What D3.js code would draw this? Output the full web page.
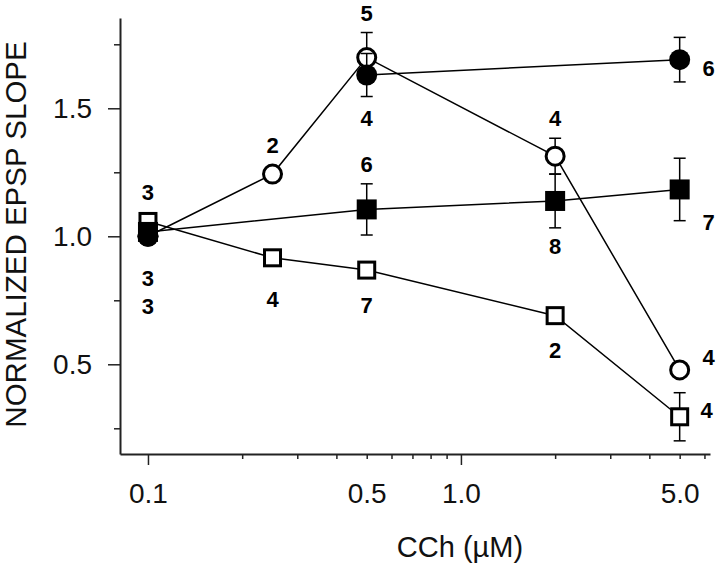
<!DOCTYPE html>
<html><head><meta charset="utf-8">
<script src="https://cdn.jsdelivr.net/npm/d3@7"></script>
<style>html,body{margin:0;padding:0;background:#fff;} svg{display:block;}</style>
</head><body><svg id="chart" width="720" height="568"></svg>
<script>
// ---------- data ----------
const xLabelTicks = [0.1, 0.5, 1, 5];
const xLabelTexts = ["0.1", "0.5", "1.0", "5.0"];
const xMajorTicks = [0.1, 1];
const xMinorTicks = [0.2, 0.3, 0.4, 0.5, 0.6, 0.7, 0.8, 0.9, 2, 3, 4, 5, 6];
const yMajorTicks = [0.5, 1.0, 1.5];
const yMajorTexts = ["0.5", "1.0", "1.5"];
const yMinorTicks = [0.25, 0.75, 1.25, 1.75];

const xTitle = "CCh (\u00B5M)";
const yTitle = "NORMALIZED EPSP SLOPE";

// open circles
const openCircleX   = [0.1, 0.25, 0.5, 2, 5];
const openCircleY   = [1.0, 1.243, 1.698, 1.313, 0.478];
const openCircleErr = [0, 0, 0.098, 0.07, 0];
const openCircleN   = [null, 2, 5, 4, 4];
// open squares
const openSquareX   = [0.1, 0.25, 0.5, 2, 5];
const openSquareY   = [1.058, 0.916, 0.868, 0.69, 0.295];
const openSquareErr = [0, 0, 0, 0, 0.094];
const openSquareN   = [3, 4, 7, 2, 4];
// filled squares
const filledSquareX   = [0.1, 0.5, 2, 5];
const filledSquareY   = [1.017, 1.105, 1.138, 1.183];
const filledSquareErr = [0, 0.10, 0.105, 0.122];
const filledSquareN   = [3, 6, 8, 7];
// filled circles
const filledCircleX   = [0.1, 0.5, 5];
const filledCircleY   = [1.0, 1.63, 1.69];
const filledCircleErr = [0, 0.084, 0.087];
const filledCircleN   = [3, 4, 6];

// ---------- layout (label offsets in px) ----------
const openCircleLab   = [null, [0,-29], [0,-45], [0,-38], [29,-13]];
const openSquareLab   = [[0,-29], [0,41], [0,35], [0,34], [27,-7]];
const filledSquareLab = [[0,46], [0,-45], [0,45], [29,33]];
const filledCircleLab = [[0,70], [0,43], [29,8]];

const series = [
  {x: openCircleX,   y: openCircleY,   e: openCircleErr,   n: openCircleN,   lab: openCircleLab,   shape: "circle", filled: false, lineStart: 0},
  {x: openSquareX,   y: openSquareY,   e: openSquareErr,   n: openSquareN,   lab: openSquareLab,   shape: "square", filled: false, lineStart: 0},
  {x: filledSquareX, y: filledSquareY, e: filledSquareErr, n: filledSquareN, lab: filledSquareLab, shape: "square", filled: true,  lineStart: 0},
  {x: filledCircleX, y: filledCircleY, e: filledCircleErr, n: filledCircleN, lab: filledCircleLab, shape: "circle", filled: true,  lineStart: 1}
];

// ---------- scales ----------
const svg = d3.select("#chart");
const FONT = "'Liberation Sans', Arial, Helvetica, sans-serif";
const x = d3.scaleLog().domain([0.0814, 6.25]).range([120, 710]);
const y = d3.scaleLinear().domain([0.1496, 1.8527]).range([454, 18]);
const axisColor = "#222";

// ---------- axes ----------
function styleAxis(g) {
  g.selectAll("path.domain").attr("stroke", axisColor).attr("stroke-width", 2);
  g.selectAll(".tick line").attr("stroke", axisColor).attr("stroke-width", 1.5);
  g.selectAll("text").attr("font-family", FONT).attr("font-size", 28).attr("fill", "#111");
}
svg.append("g").attr("transform", "translate(0,454)")
  .call(d3.axisBottom(x).tickValues(xMinorTicks).tickSize(5).tickSizeOuter(0).tickFormat(""))
  .call(styleAxis);
svg.append("g").attr("transform", "translate(0,454)")
  .call(d3.axisBottom(x).tickValues(xMajorTicks).tickSize(11).tickSizeOuter(0).tickFormat(""))
  .call(styleAxis).call(g => g.select("path.domain").remove());
svg.append("g").attr("transform", "translate(0,454)")
  .call(d3.axisBottom(x).tickValues(xLabelTicks).tickSize(0).tickPadding(29)
    .tickFormat((d, i) => xLabelTexts[i]))
  .call(styleAxis).call(g => g.select("path.domain").remove());

svg.append("g").attr("transform", "translate(120,0)")
  .call(d3.axisLeft(y).tickValues(yMinorTicks).tickSize(6).tickSizeOuter(0).tickFormat(""))
  .call(styleAxis);
svg.append("g").attr("transform", "translate(120,0)")
  .call(d3.axisLeft(y).tickValues(yMajorTicks).tickSize(12).tickSizeOuter(0).tickPadding(16)
    .tickFormat((d, i) => yMajorTexts[i]))
  .call(styleAxis).call(g => g.select("path.domain").remove());

// titles
svg.append("text").attr("transform", "translate(26,234.5) rotate(-90)")
  .attr("text-anchor", "middle").attr("font-family", FONT).attr("font-size", 29.5)
  .attr("fill", "#111").text(yTitle);
svg.append("text").attr("x", 460).attr("y", 557)
  .attr("text-anchor", "middle").attr("font-family", FONT).attr("font-size", 29)
  .attr("fill", "#111").text(xTitle);

// ---------- series ----------
const line = d3.line().x(d => x(d[0])).y(d => y(d[1]));
series.forEach(s => {
  const pts = s.x.map((v, i) => [v, s.y[i], s.e[i], s.n[i], s.lab[i]]);
  const g = svg.append("g");
  g.append("path").attr("d", line(pts.slice(s.lineStart)))
    .attr("fill", "none").attr("stroke", "#000").attr("stroke-width", 1.5);
  // error bars
  pts.filter(p => p[2] > 0).forEach(p => {
    const cx = x(p[0]), y1 = y(p[1] + p[2]), y2 = y(p[1] - p[2]);
    g.append("line").attr("x1", cx).attr("x2", cx).attr("y1", y1).attr("y2", y2)
      .attr("stroke", "#000").attr("stroke-width", 1.5);
    [y1, y2].forEach(yy => g.append("line").attr("x1", cx - 6).attr("x2", cx + 6)
      .attr("y1", yy).attr("y2", yy).attr("stroke", "#000").attr("stroke-width", 1.5));
  });
  // markers
  pts.forEach(p => {
    const cx = x(p[0]), cy = y(p[1]);
    if (s.shape === "circle") {
      if (s.filled) g.append("circle").attr("cx", cx).attr("cy", cy).attr("r", 10.5).attr("fill", "#000");
      else g.append("circle").attr("cx", cx).attr("cy", cy).attr("r", 9).attr("fill", "#fff")
        .attr("stroke", "#000").attr("stroke-width", 3);
    } else {
      if (s.filled) g.append("rect").attr("x", cx - 10).attr("y", cy - 10).attr("width", 20).attr("height", 20).attr("fill", "#000");
      else g.append("rect").attr("x", cx - 8).attr("y", cy - 8).attr("width", 16).attr("height", 16)
        .attr("fill", "#fff").attr("stroke", "#000").attr("stroke-width", 3);
    }
  });
  // n labels
  pts.filter(p => p[3] != null).forEach(p => {
    g.append("text").attr("x", x(p[0]) + p[4][0]).attr("y", y(p[1]) + p[4][1])
      .attr("dy", "0.36em").attr("text-anchor", "middle")
      .attr("font-family", FONT).attr("font-weight", "bold").attr("font-size", 22)
      .attr("fill", "#000").text(p[3]);
  });
});
</script>
</body></html>
